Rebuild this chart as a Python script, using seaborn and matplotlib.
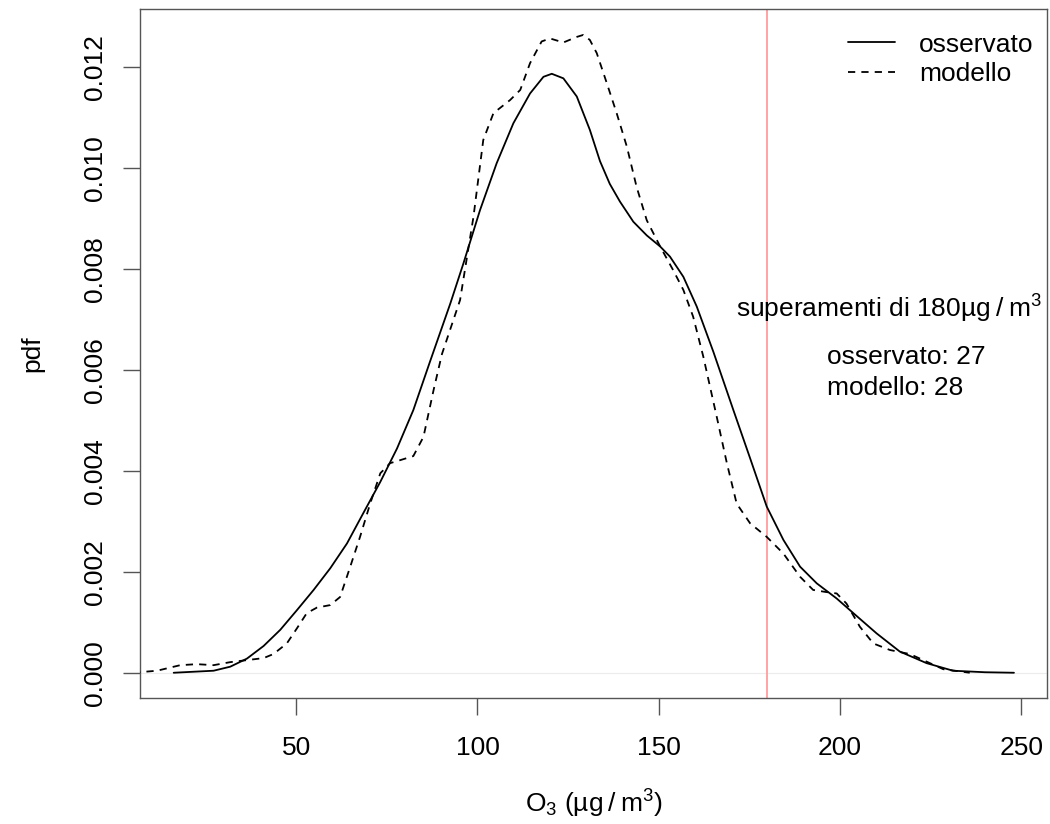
import matplotlib
matplotlib.use("Agg")
import matplotlib.pyplot as plt
from matplotlib.lines import Line2D
import numpy as np
import pandas as pd
import seaborn as sns

obs_x = [16.2, 27.2, 31.8, 36.4, 41.0, 45.6, 50.2, 54.8, 59.4, 64.0, 68.5, 73.2,
         77.8, 82.3, 86.9, 92.5, 96.1, 100.7, 105.3, 109.9, 114.5, 118.2, 120.5,
         123.7, 127.4, 131.0, 133.8, 136.5, 139.3, 143.0, 146.7, 150.4, 153.1,
         156.8, 160.5, 165.1, 170.6, 175.2, 179.8, 184.4, 189.0, 193.6, 199.1,
         203.7, 210.1, 216.5, 223.9, 231.2, 240.0, 248.0]
obs_y = [0.0, 0.00004, 0.00012, 0.00028, 0.00053, 0.00085, 0.00124, 0.00164,
         0.00207, 0.00256, 0.00316, 0.00378, 0.00444, 0.0052, 0.00616, 0.00731,
         0.0081, 0.00916, 0.01009, 0.01088, 0.01147, 0.0118, 0.01186, 0.01177,
         0.01141, 0.01075, 0.01013, 0.00968, 0.00933, 0.00893, 0.00866, 0.00844,
         0.00824, 0.00784, 0.00725, 0.00635, 0.0052, 0.00425, 0.00329, 0.00263,
         0.0021, 0.00177, 0.00147, 0.00118, 0.00078, 0.00042, 0.00019, 0.00004,
         0.00001, 0.0]

# densita' del modello (linea tratteggiata)
mod_x = [5.0, 11.6, 18.0, 22.6, 27.2, 31.8, 36.4, 41.0, 43.7, 47.4, 50.2, 52.9,
         55.7, 59.4, 62.1, 64.9, 67.6, 70.4, 73.2, 75.9, 78.7, 82.3, 85.1, 87.9,
         90.2, 95.2, 98.9, 101.6, 104.4, 109.0, 111.8, 114.5, 117.7, 120.0,
         123.7, 127.4, 129.2, 131.0, 132.9, 135.7, 138.4, 141.2, 143.9, 146.7,
         150.4, 154.0, 156.8, 159.5, 162.3, 166.0, 168.8, 171.5, 175.2, 179.8,
         184.4, 189.0, 192.6, 196.0, 199.1, 201.8, 205.5, 209.2, 213.8, 219.3,
         223.9, 228.5, 235.8]
mod_y = [0.0, 0.00004, 0.00015, 0.00017, 0.00015, 0.00021, 0.00025, 0.00029,
         0.00037, 0.00058, 0.00088, 0.00118, 0.00129, 0.00134, 0.0015, 0.0021,
         0.00269, 0.00335, 0.00395, 0.00415, 0.00421, 0.00429, 0.00467, 0.0056,
         0.00631, 0.00738, 0.00903, 0.01055, 0.01108, 0.01134, 0.01154, 0.01207,
         0.0125, 0.01256, 0.01248, 0.01259, 0.01263, 0.01253, 0.01227, 0.01167,
         0.01108, 0.01042, 0.00962, 0.00896, 0.00844, 0.00797, 0.00758, 0.00705,
         0.00626, 0.00507, 0.00415, 0.00335, 0.00296, 0.00269, 0.00236, 0.0019,
         0.00164, 0.0016, 0.00157, 0.00137, 0.00091, 0.00058, 0.00045, 0.00037,
         0.00022, 0.00007, 0.0]

soglia = 180
n_obs = 27
n_mod = 28
x_ticks = [50, 100, 150, 200, 250]
y_ticks = [0.0, 0.002, 0.004, 0.006, 0.008, 0.010, 0.012]

sns.set_theme(style="white")
plt.rcParams["font.family"] = ["Liberation Sans", "DejaVu Sans"]
plt.rcParams["text.color"] = "black"
plt.rcParams["axes.labelcolor"] = "black"
plt.rcParams["mathtext.fontset"] = "custom"
plt.rcParams["mathtext.rm"] = "Liberation Sans"
plt.rcParams["mathtext.it"] = "Liberation Sans"
plt.rcParams["mathtext.bf"] = "Liberation Sans:bold"

fs = 19
lw = 1.3
dash = (0, (4.0, 3.4))
thin = "\u2009"

fig = plt.figure(figsize=(10.5, 8.24), dpi=100)
ax = fig.add_axes([0.13333, 0.15255, 0.86410, 0.83617])

ax.axhline(0, color="#ececec", lw=0.8, zorder=1)
ax.axvline(soglia, color="#ff9c9c", lw=1.3, zorder=1)

obs = pd.DataFrame({"x": obs_x, "y": obs_y})
mod = pd.DataFrame({"x": mod_x, "y": mod_y})
sns.lineplot(data=obs, x="x", y="y", color="black", lw=lw, ax=ax,
             estimator=None, sort=False, zorder=3)
sns.lineplot(data=mod, x="x", y="y", color="black", lw=lw, ax=ax,
             estimator=None, sort=False, linestyle=dash, zorder=3)

ax.set_xlim(6.9, 257.2)
ax.set_ylim(-0.000506, 0.013137)
ax.set_xticks(x_ticks)
ax.set_yticks(y_ticks)
ax.set_yticklabels([f"{v:.3f}" for v in y_ticks], rotation=90, va="center")

for s in ax.spines.values():
    s.set_color("#555555")
    s.set_linewidth(1.0)
ax.tick_params(axis="both", which="major", bottom=True, left=True,
               length=12, width=1.0, color="#555555", labelsize=fs,
               labelcolor="black")
ax.tick_params(axis="x", pad=15)
ax.tick_params(axis="y", pad=11.5)

ax.set_xlabel(f"O$_3$ (µg{thin}/{thin}m$^3$)", fontsize=fs)
ax.xaxis.label.set_va("baseline")
ax.xaxis.set_label_coords(0.5, -0.166)
ax.set_ylabel("pdf", fontsize=fs)
ax.yaxis.set_label_coords(-0.105, 0.5)

handles = [Line2D([], [], color="black", lw=lw),
           Line2D([], [], color="black", lw=lw, linestyle=dash)]
ax.legend(handles, ["osservato", "modello"], loc="upper right",
          bbox_to_anchor=(0.9846, 0.966), borderaxespad=0, borderpad=0,
          frameon=False, fontsize=fs, handlelength=1.8, handletextpad=0.9,
          labelspacing=0.2)

ax.text(213.6, 0.007024, f"superamenti di 180µg{thin}/{thin}m$^3$",
        fontsize=fs, ha="center", va="baseline")
ax.text(196.5, 0.006107, f"osservato: {n_obs}", fontsize=fs,
        ha="left", va="baseline")
ax.text(196.5, 0.005499, f"modello: {n_mod}", fontsize=fs,
        ha="left", va="baseline")

fig.savefig("out.png", dpi=100)
